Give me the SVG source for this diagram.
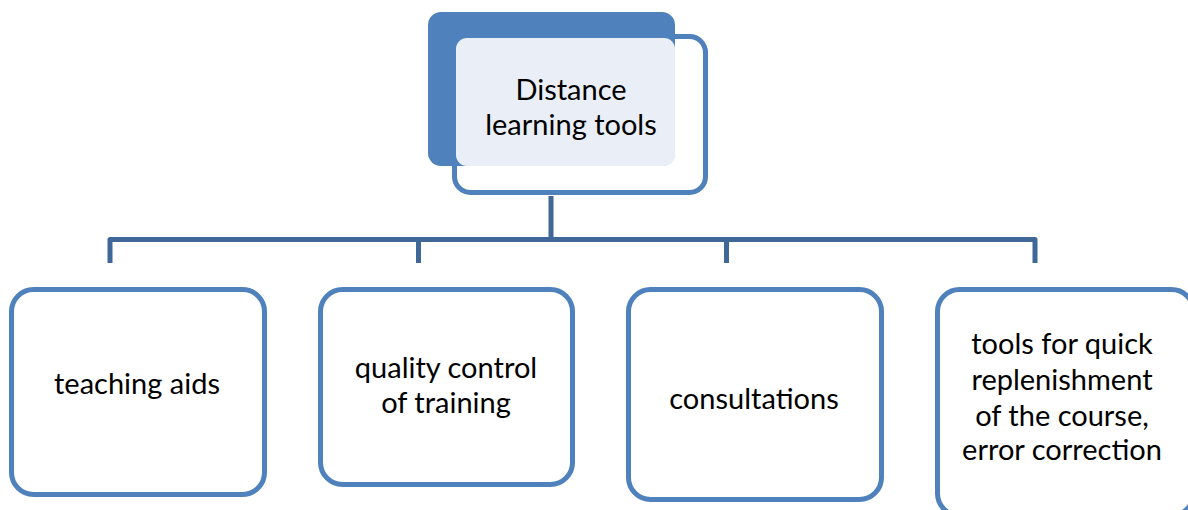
<svg xmlns="http://www.w3.org/2000/svg" width="1188" height="510" viewBox="0 0 1188 510">
<style>
.box{fill:#FFFFFF;stroke:#4F81BD;stroke-width:5}
.conn{fill:none;stroke:#3F6899;stroke-width:5;stroke-linecap:butt;stroke-linejoin:round}
text{font-family:"Lato","Open Sans","Liberation Sans",sans-serif;font-size:29px;fill:#000;text-anchor:middle}
</style>
<rect width="1188" height="510" fill="#FFFFFF"/>
<g id="connectors">
<line x1="551" y1="173" x2="551" y2="192" stroke="#E3E8F0" stroke-width="5"/>
<path class="conn" d="M551 196 V239.5"/>
<path class="conn" d="M110 263 V239.5 H1035 V263"/>
<path class="conn" d="M418.5 239.5 V263"/>
<path class="conn" d="M726.5 239.5 V263"/>
</g>
<g id="node-root">
<rect x="454.5" y="36.5" width="251" height="156" rx="16" fill="#FFFFFF" stroke="#4F81BD" stroke-width="5"/>
<rect x="428" y="12" width="247" height="154" rx="13" fill="#4F81BD"/>
<rect x="456" y="38" width="219" height="128" rx="11" fill="#EAEFF7"/>
<text x="571" y="100">Distance</text>
<text x="571" y="135">learning tools</text>
</g>
<g id="node-teaching">
<rect class="box" x="11.5" y="289.5" width="253" height="205" rx="22"/>
<text x="137" y="394">teaching aids</text>
</g>
<g id="node-quality">
<rect class="box" x="320.5" y="289.5" width="252" height="195" rx="22"/>
<text x="446" y="378">quality control</text>
<text x="446" y="413">of training</text>
</g>
<g id="node-consult">
<rect class="box" x="628.5" y="289.5" width="253" height="210" rx="22"/>
<text x="754" y="409">consultations</text>
</g>
<g id="node-tools">
<rect class="box" x="937.5" y="289.5" width="256" height="226" rx="22"/>
<text x="1062" y="354">tools for quick</text>
<text x="1062" y="390">replenishment</text>
<text x="1062" y="426">of the course,</text>
<text x="1062" y="460">error correction</text>
</g>
</svg>
